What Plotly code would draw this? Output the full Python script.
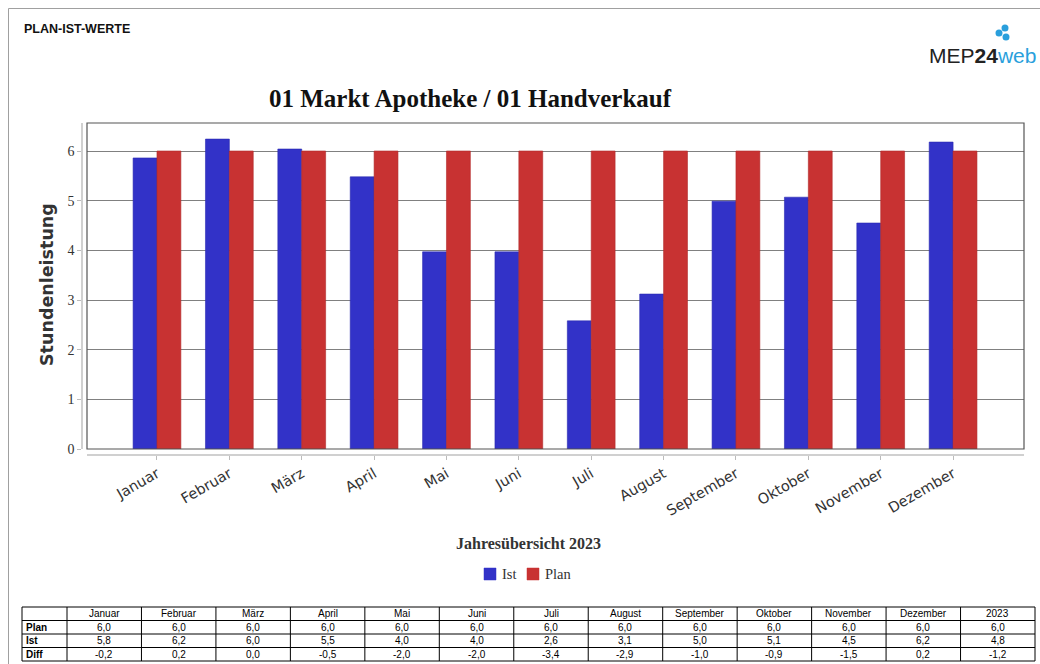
import plotly.graph_objects as go

W, H = 1040, 664
H_EFF = 656  # rendered vertical extent observed in the screenshot

months = ["Januar", "Februar", "März", "April", "Mai", "Juni", "Juli",
          "August", "September", "Oktober", "November", "Dezember"]
series_names = ["Ist", "Plan"]
ist_values = [5.86, 6.24, 6.04, 5.48, 3.97, 3.97, 2.58, 3.12, 4.99, 5.07, 4.55, 6.18]
plan_values = [6.0, 6.0, 6.0, 6.0, 6.0, 6.0, 6.0, 6.0, 6.0, 6.0, 6.0, 6.0]

table_header = [""] + months + ["2023"]
table_row_labels = ["Plan", "Ist", "Diff"]
table_plan = ["6,0"] * 12 + ["6,0"]
table_ist = ["5,8", "6,2", "6,0", "5,5", "4,0", "4,0", "2,6", "3,1", "5,0", "5,1", "4,5", "6,2", "4,8"]
table_diff = ["-0,2", "0,2", "0,0", "-0,5", "-2,0", "-2,0", "-3,4", "-2,9", "-1,0", "-0,9", "-1,5", "0,2", "-1,2"]

BLUE = "#3232c8"
RED = "#c83232"
colors = [BLUE, RED]


def px_x(p):
    return p / W


def px_y(p):
    return 1 - p / H_EFF


fig = go.Figure()
fig.add_trace(go.Bar(name=series_names[0], x=months, y=ist_values, showlegend=False,
                     marker=dict(color=BLUE, line=dict(color="#2a2ab0", width=0.6))))
fig.add_trace(go.Bar(name=series_names[1], x=months, y=plan_values, showlegend=False,
                     marker=dict(color=RED, line=dict(color="#b02a2a", width=0.6))))

x0, x1 = px_x(87), px_x(1024)
y0, y1 = px_y(449), px_y(123)

fig.update_layout(
    width=W, height=H, autosize=False,
    margin=dict(l=0, r=0, t=0, b=0),
    paper_bgcolor="white", plot_bgcolor="white",
    barmode="group", bargap=0.34, bargroupgap=0,
    showlegend=False,
    xaxis=dict(domain=[x0, x1], anchor="free", position=px_y(455), type="category",
               range=[-0.967, 11.98], showgrid=False, showline=True, linecolor="#d0d0d0",
               linewidth=1.5, ticks="outside", ticklen=4, tickcolor="#bbbbbb",
               tickangle=-30, tickfont=dict(family="DejaVu Sans", size=14.5, color="#333"),
               zeroline=False),
    yaxis=dict(domain=[y0, y1], anchor="free", position=px_x(82), range=[0, 6.564],
               showgrid=True, gridcolor="#808080", gridwidth=1, showline=True,
               linecolor="#d0d0d0", linewidth=1.5, ticks="outside", ticklen=4,
               tickcolor="#bbbbbb", tickvals=[0, 1, 2, 3, 4, 5, 6],
               tickfont=dict(family="Liberation Serif, Times New Roman", size=14, color="#333"),
               zeroline=False),
)

shapes = [
    dict(type="rect", xref="paper", yref="paper", x0=x0, x1=x1, y0=y0, y1=y1,
         line=dict(color="#555555", width=1.2), layer="above"),
    dict(type="line", xref="paper", yref="paper", x0=px_x(8.5), x1=px_x(8.5), y0=px_y(8.5), y1=px_y(664),
         line=dict(color="#a0a0a0", width=1)),
    dict(type="line", xref="paper", yref="paper", x0=px_x(8.5), x1=px_x(1040), y0=px_y(8.5), y1=px_y(8.5),
         line=dict(color="#a0a0a0", width=1)),
]
for cx, cy, r in [(999, 33, 3.5), (1005, 28, 3.5), (1006, 37, 3.5)]:
    shapes.append(dict(type="circle", xref="paper", yref="paper",
                       x0=px_x(cx - r), x1=px_x(cx + r), y0=px_y(cy + r), y1=px_y(cy - r),
                       fillcolor="#2a9fdc", line=dict(width=0)))

annotations = [
    dict(text="<b>PLAN-IST-WERTE</b>", x=px_x(22), y=px_y(29), xref="paper", yref="paper",
         xanchor="left", yanchor="middle", showarrow=False,
         font=dict(family="Liberation Sans, Arial", size=12.5, color="#111")),
    dict(text="MEP<b>24</b><span style='color:#2a9fdc'>web</span>", x=px_x(1038), y=px_y(55),
         xref="paper", yref="paper", xanchor="right", yanchor="middle", showarrow=False,
         font=dict(family="Liberation Sans, Arial", size=21, color="#222")),
    dict(text="<b>01 Markt Apotheke / 01 Handverkauf</b>", x=px_x(470), y=px_y(98),
         xref="paper", yref="paper", xanchor="center", yanchor="middle", showarrow=False,
         font=dict(family="Liberation Serif, Times New Roman", size=25, color="#111")),
    dict(text="<b>Stundenleistung</b>", x=px_x(47), y=px_y(285), textangle=-90,
         xref="paper", yref="paper", xanchor="center", yanchor="middle", showarrow=False,
         font=dict(family="DejaVu Sans", size=17.5, color="#333")),
    dict(text="<b>Jahresübersicht 2023</b>", x=px_x(528), y=px_y(543),
         xref="paper", yref="paper", xanchor="center", yanchor="middle", showarrow=False,
         font=dict(family="Liberation Serif, Times New Roman", size=16, color="#333")),
]

# ---- legend (manual, compact like the reference) ----
leg_items = [(484, 500), (527, 543)]
for (sx, tx), name, col in zip(leg_items, series_names, colors):
    shapes.append(dict(type="rect", xref="paper", yref="paper",
                       x0=px_x(sx), x1=px_x(sx + 12), y0=px_y(580), y1=px_y(568),
                       fillcolor=col, line=dict(color=col, width=0.5)))
    annotations.append(dict(text=name, x=px_x(tx), y=px_y(574), xref="paper", yref="paper",
                            xanchor="left", yanchor="middle", showarrow=False,
                            font=dict(family="Liberation Serif, Times New Roman", size=14.5, color="#333")))

# ---- data table drawn with shapes + annotations ----
col_edges = [22, 67] + [67 + (1035 - 67) * (i + 1) / 13 for i in range(13)]
row_edges = [607, 620.5, 634, 647.5, 661]
tfont = dict(family="Liberation Sans, Arial", size=10, color="black")
for xe in col_edges:
    shapes.append(dict(type="line", xref="paper", yref="paper", x0=px_x(xe), x1=px_x(xe),
                       y0=px_y(row_edges[0]), y1=px_y(row_edges[-1]),
                       line=dict(color="black", width=1)))
for ye in row_edges:
    shapes.append(dict(type="line", xref="paper", yref="paper", x0=px_x(col_edges[0]), x1=px_x(col_edges[-1]),
                       y0=px_y(ye), y1=px_y(ye), line=dict(color="black", width=1)))

rows = [table_header, [f"<b>{table_row_labels[0]}</b>"] + table_plan,
        [f"<b>{table_row_labels[1]}</b>"] + table_ist,
        [f"<b>{table_row_labels[2]}</b>"] + table_diff]
for r, row in enumerate(rows):
    yc = (row_edges[r] + row_edges[r + 1]) / 2
    for c, txt in enumerate(row):
        if not txt:
            continue
        if c == 0:
            xa, xp = "left", col_edges[0] + 2
        else:
            xa, xp = "center", (col_edges[c] + col_edges[c + 1]) / 2
        annotations.append(dict(text=txt, x=px_x(xp), y=px_y(yc), xref="paper", yref="paper",
                                xanchor=xa, yanchor="middle", showarrow=False, font=tfont))

fig.update_layout(shapes=shapes, annotations=annotations)

fig.write_html(
    "out.html",
    config={"responsive": False, "displayModeBar": False},
    default_width="1040px", default_height="664px",
    post_script="document.body.style.margin='0';document.body.style.overflow='hidden';",
)
